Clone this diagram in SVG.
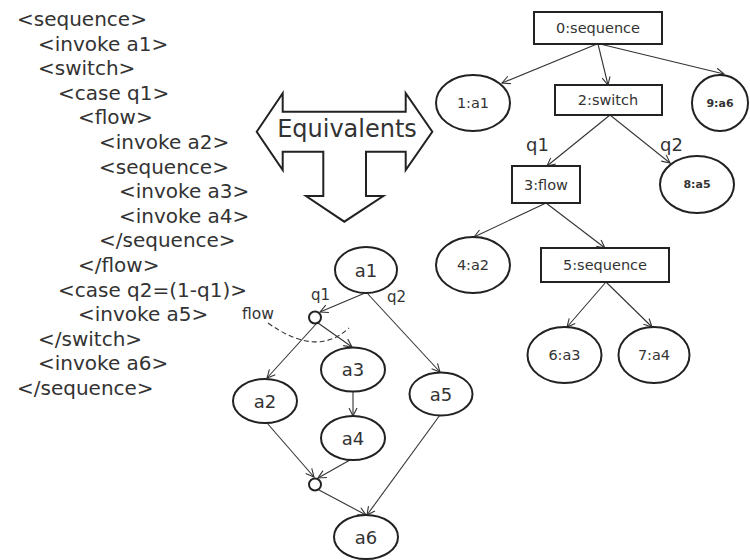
<svg xmlns="http://www.w3.org/2000/svg" width="750" height="560" viewBox="0 0 750 560">
<defs>
<marker id="arr" markerUnits="userSpaceOnUse" markerWidth="12" markerHeight="12" viewBox="-10 -6 12 12" refX="0" refY="0" orient="auto">
<path d="M-8,-4 L0,0 L-8,4" fill="none" stroke="#333" stroke-width="1.1"/>
</marker>
</defs>
<style>
text{font-family:"DejaVu Sans","Verdana",sans-serif;fill:#333}
.code{font-size:20px}
.n{fill:#fff;stroke:#222;stroke-width:2}
.lbl{font-size:14.5px;text-anchor:middle;dominant-baseline:central}
.sm{font-size:11px;font-weight:bold;text-anchor:middle;dominant-baseline:central}
.big{font-size:18px;text-anchor:middle;dominant-baseline:central}
.c line{stroke:#333;stroke-width:1.1;marker-end:url(#arr)}
.q{font-size:18px}
.qs{font-size:15px}
</style>
<rect width="750" height="560" fill="#fff"/>
<g id="code">
<text class="code" x="17" y="26">&lt;sequence&gt;</text>
<text class="code" x="38" y="50.6">&lt;invoke a1&gt;</text>
<text class="code" x="38" y="75.2">&lt;switch&gt;</text>
<text class="code" x="58" y="99.8">&lt;case q1&gt;</text>
<text class="code" x="78" y="124.4">&lt;flow&gt;</text>
<text class="code" x="99" y="149">&lt;invoke a2&gt;</text>
<text class="code" x="99" y="173.6">&lt;sequence&gt;</text>
<text class="code" x="119" y="198.2">&lt;invoke a3&gt;</text>
<text class="code" x="119" y="222.8">&lt;invoke a4&gt;</text>
<text class="code" x="99" y="247.4">&lt;/sequence&gt;</text>
<text class="code" x="78" y="272">&lt;/flow&gt;</text>
<text class="code" x="58" y="296.6">&lt;case q2=(1-q1)&gt;</text>
<text class="code" x="78" y="321.2">&lt;invoke a5&gt;</text>
<text class="code" x="38" y="345.8">&lt;/switch&gt;</text>
<text class="code" x="38" y="370.4">&lt;invoke a6&gt;</text>
<text class="code" x="17" y="395">&lt;/sequence&gt;</text>
</g>
<g id="equivalents">
<path d="M256.7,131.7 L282.7,93.3 L282.7,111.7 L405.7,111.7 L405.7,93.3 L432.3,131.7 L405.7,170 L405.7,151.7 L366,151.7 L366,196 L383.3,196 L344.3,221.7 L306,196 L323.3,196 L323.3,151.7 L282.7,151.7 L282.7,170 Z" fill="#fff" stroke="#222" stroke-width="2" stroke-linejoin="miter"/>
<text x="347" y="137" font-size="24" text-anchor="middle">Equivalents</text>
</g>
<g class="c" id="connectors">
<line x1="597" y1="44" x2="502" y2="83"/>
<line x1="598" y1="44" x2="608" y2="85"/>
<line x1="600" y1="44" x2="724" y2="74"/>
<line x1="610" y1="115" x2="547" y2="166"/>
<line x1="610" y1="115" x2="670" y2="163"/>
<line x1="546" y1="203" x2="474" y2="237"/>
<line x1="546" y1="203" x2="605" y2="248"/>
<line x1="606" y1="282" x2="567" y2="327"/>
<line x1="606" y1="282" x2="652" y2="327"/>
<line x1="365" y1="293" x2="320" y2="312"/>
<line x1="367" y1="293" x2="440" y2="372"/>
<line x1="317" y1="323" x2="267" y2="378"/>
<line x1="318" y1="323" x2="352" y2="347"/>
<line x1="353" y1="392" x2="353" y2="416"/>
<line x1="267" y1="423" x2="314" y2="477"/>
<line x1="350" y1="460" x2="318" y2="478"/>
<line x1="319" y1="490" x2="366" y2="515"/>
<line x1="440" y1="415" x2="367" y2="515"/>
<path d="M268,323 Q317,358 349,328" fill="none" stroke="#333" stroke-width="1.1" stroke-dasharray="5,3"/>
</g>
<g id="t0"><rect class="n" x="534" y="12" width="128" height="32"/><text class="lbl" x="598" y="28">0:sequence</text></g>
<g id="t1"><ellipse class="n" cx="473" cy="103" rx="37" ry="28"/><text class="lbl" x="473" y="103">1:a1</text></g>
<g id="t2"><rect class="n" x="555" y="85" width="107" height="30"/><text class="lbl" x="608" y="100">2:switch</text></g>
<g id="t9"><ellipse class="n" cx="720" cy="103" rx="28" ry="28"/><text class="sm" x="720" y="103">9:a6</text></g>
<g id="t3"><rect class="n" x="512" y="166" width="68" height="37"/><text class="lbl" x="546" y="184.5">3:flow</text></g>
<g id="t8"><ellipse class="n" cx="697" cy="184.5" rx="37" ry="28.5"/><text class="sm" x="697" y="184.5">8:a5</text></g>
<g id="t4"><ellipse class="n" cx="473" cy="265" rx="37" ry="28"/><text class="lbl" x="473" y="265">4:a2</text></g>
<g id="t5"><rect class="n" x="541" y="248" width="128" height="34"/><text class="lbl" x="605" y="265">5:sequence</text></g>
<g id="t6"><ellipse class="n" cx="564.5" cy="355" rx="37" ry="28"/><text class="lbl" x="564.5" y="355">6:a3</text></g>
<g id="t7"><ellipse class="n" cx="654" cy="355" rx="35.5" ry="28"/><text class="lbl" x="654" y="355">7:a4</text></g>
<g id="tree-labels"><text class="q" x="526" y="151">q1</text><text class="q" x="660" y="151">q2</text></g>
<g id="a1"><ellipse class="n" cx="366" cy="270" rx="31" ry="23"/><text class="big" x="366" y="270">a1</text></g>
<g id="split"><circle class="n" cx="315" cy="317.5" r="6" stroke-width="1.8"/></g>
<g id="a2"><ellipse class="n" cx="265" cy="401" rx="32" ry="22"/><text class="big" x="265" y="401">a2</text></g>
<g id="a3"><ellipse class="n" cx="353" cy="369.5" rx="32" ry="22"/><text class="big" x="353" y="369.5">a3</text></g>
<g id="a4"><ellipse class="n" cx="353" cy="438" rx="32" ry="22"/><text class="big" x="353" y="438">a4</text></g>
<g id="a5"><ellipse class="n" cx="441" cy="394" rx="31.5" ry="21.5"/><text class="big" x="441" y="394">a5</text></g>
<g id="join"><circle class="n" cx="315" cy="484.5" r="6" stroke-width="1.8"/></g>
<g id="a6"><ellipse class="n" cx="366" cy="537" rx="32" ry="22"/><text class="big" x="366" y="537">a6</text></g>
<g id="flow-labels"><text class="qs" x="311" y="300">q1</text><text class="qs" x="387" y="302">q2</text><text x="242" y="319" font-size="15.5">flow</text></g>
</svg>
